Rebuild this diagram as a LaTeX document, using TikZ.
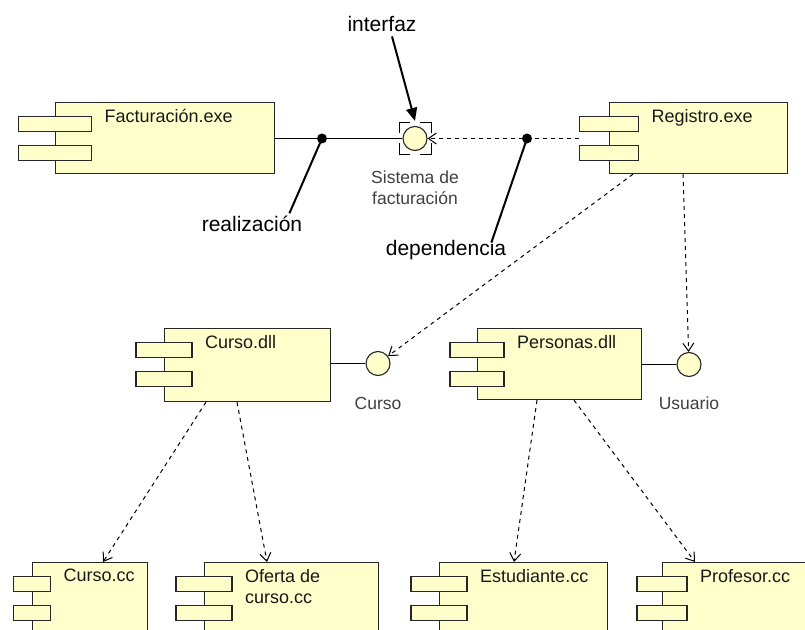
\documentclass[tikz,border=0pt]{standalone}
\usepackage{fontspec}
\setmainfont{Liberation Sans}
\usetikzlibrary{arrows.meta,positioning}

\definecolor{compfill}{RGB}{255,255,204}
\definecolor{labgray}{RGB}{64,64,64}

\tikzset{
  compbox/.style={draw=black!85, fill=compfill, line width=1.1bp, rectangle, inner sep=0pt},
  tabbox/.style={compbox, minimum height=15bp},
  comptext/.style={anchor=north west, inner sep=0pt, font=\fontsize{18bp}{21bp}\selectfont, text=black!90, align=left},
  iface/.style={circle, draw=black!85, fill=compfill, line width=1.1bp, minimum size=24bp, inner sep=0pt},
  bullet/.style={circle, fill=black, minimum size=10bp, inner sep=0pt},
  dep/.style={dash pattern=on 4bp off 4bp, line width=1bp, -{Straight Barb[length=8bp,width=11bp]}},
  real/.style={line width=1bp},
  note/.style={inner sep=0pt, font=\fontsize{21bp}{25bp}\selectfont},
  pointer/.style={line width=2bp},
  small/.style={inner sep=0pt, font=\fontsize{17.5bp}{21bp}\selectfont, text=labgray, align=center},
  selbox/.style={line width=1bp, dash pattern=on 22bp off 10bp, dash phase=11bp}
}

% name, north west corner, width, height, tab width, text
\newcommand{\comp}[6]{
  \node[compbox, anchor=north west, minimum width=#3bp, minimum height=#4bp] (#1) at #2 {};
  \node[tabbox, minimum width=#5bp] (#1-a) at ([yshift=-22bp]#1.north west) {};
  \node[tabbox, minimum width=#5bp] (#1-b) at ([yshift=-51bp]#1.north west) {};
  \node[comptext] (#1-t) at ([xshift={(#5/2+13)*1bp}, yshift=-7bp]#1.north west) {#6};
}

\begin{document}
\begin{tikzpicture}[x=1bp, y=-1bp]
    \useasboundingbox (0,0) rectangle (805,630);
    \clip (0,0) rectangle (805,630);

    \comp{fact}{(55,102)}{219}{71}{73}{Facturación.exe}
    \comp{reg}{(609,102)}{178}{71}{59}{Registro.exe}
    \comp{cdll}{(164,328)}{166}{73}{56}{Curso.dll}
    \comp{pdll}{(477,328)}{164}{71}{54}{Personas.dll}
    \comp{ccc}{(32,562)}{115}{100}{37}{Curso.cc}
    \comp{ofe}{(204,562)}{174}{100}{56}{Oferta de\\curso.cc}
    \comp{est}{(439,562)}{168}{100}{56}{Estudiante.cc}
    \comp{prof}{(662,562)}{160}{100}{50}{Profesor.cc}

    \node[iface] (sfac) at (415,138.5) {};
    \node[iface] (ccur) at (378,363.5) {};
    \node[iface] (usu) at (689,364.5) {};
    \draw[selbox] ([shift={(-16,-16)}]sfac.center) rectangle ([shift={(16,16)}]sfac.center);

    \node[small, below=20bp of sfac] (lsis) {Sistema de\\facturación};
    \node[small, below=21bp of ccur] (lcur) {Curso};
    \node[small, below=20bp of usu] (lusu) {Usuario};

    \node[bullet] (d1) at (322,138.5) {};
    \node[bullet] (d2) at (527,138.5) {};

    \draw[real] (fact.east |- d1) -- (d1) -- (sfac);
    \draw[real] (cdll.east |- ccur) -- (ccur);
    \draw[real] (pdll.east |- usu) -- (usu);

    \draw[dep] (reg-a.west |- sfac) -- (sfac);
    \draw[dep] ([xshift=24bp]reg.south west) -- (ccur);
    \draw[dep] ([xshift=74bp]reg.south west) -- (usu);
    \draw[dep] ([xshift=42bp]cdll.south west) -- ([xshift=71bp]ccc.north west);
    \draw[dep] ([xshift=73bp]cdll.south west) -- ([xshift=63bp]ofe.north west);
    \draw[dep] ([xshift=60bp]pdll.south west) -- ([xshift=75bp]est.north west);
    \draw[dep] ([xshift=97bp]pdll.south west) -- ([xshift=33bp]prof.north west);

    \node[note, anchor=base] (lint) at (382,32) {interfaz};
    \node[note, anchor=base] (lrea) at (252,232) {realización};
    \node[note, anchor=base] (ldep) at (446,255) {dependencia};

    \draw[pointer, -{Triangle[length=13bp,width=11bp]}] ([xshift=10bp, yshift=-4bp]lint.south) -- ([yshift=5bp]sfac.north);
    \draw[pointer] (d1.center) -- ([xshift=-13bp, yshift=3bp]lrea.north east);
    \draw[pointer] (d2.center) -- ([xshift=-15bp, yshift=-3bp]ldep.north east);
\end{tikzpicture}
\end{document}
